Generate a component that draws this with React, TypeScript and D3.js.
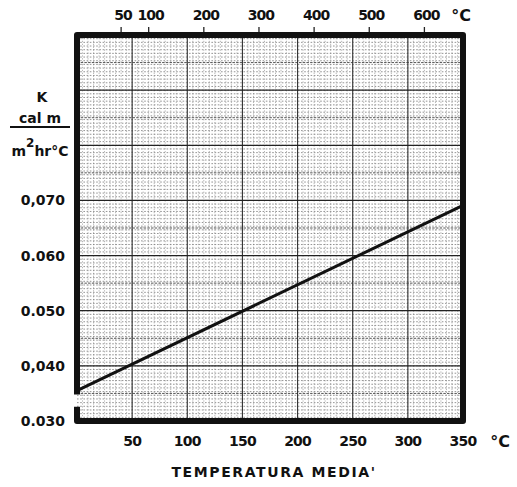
import React from 'react';
import * as d3 from 'd3';

const bottomTicks = [50, 100, 150, 200, 250, 300, 350];
const topTicks = [50, 100, 200, 300, 400, 500, 600];
const topTickLabels = ['50', '100', '200', '300', '400', '500', '600'];
const yTicks = [0.03, 0.04, 0.05, 0.06, 0.07];
const yTickLabels = ['0.030', '0,040', '0.050', '0.060', '0,070'];
const lineTemps = [0, 350];
const lineK = [0.0355, 0.0691];
const coldFaceTemp = 30;

export default function App() {
  const W = 517, H = 487;
  const x = d3.scaleLinear().domain([0, 350]).range([77, 463]);
  const y = d3.scaleLinear().domain([0.03, 0.1]).range([421, 35]);
  const xTop = d3.scaleLinear().domain([-coldFaceTemp, 700 - coldFaceTemp]).range(x.range());
  const [x0, x1] = x.range();
  const [yb, yt] = y.range();

  const fineV = d3.range(5, 350, 5);
  const fineH = d3.range(1, 105).map(i => 0.03 + i * (0.01 / 15)).filter(v => v < 0.0999);
  const medH = d3.range(0.035, 0.1, 0.01);
  const majV = d3.range(50, 350, 50);
  const majH = d3.range(0.04, 0.0999, 0.01);

  const lineData = lineTemps.map((t, i) => [t, lineK[i]] as [number, number]);
  const lineGen = d3.line<[number, number]>().x(d => x(d[0])).y(d => y(d[1]));

  const frame = `M${x0},${y(0.0348)} L${x0},${yt} L${x1},${yt} L${x1},${yb} L${x0},${yb} L${x0},${y(0.0326)}`;
  const font = '"DejaVu Sans", sans-serif';

  return (
    <svg width={W} height={H} style={{ position: 'absolute', left: 0, top: 0, background: '#fff' }}
      fontFamily={font} fontWeight="bold" fill="#111">
      <rect x={0} y={0} width={W} height={H} fill="#fff" />
      <g>
        {fineV.map(v => (
          <line key={'fv' + v} x1={x(v)} x2={x(v)} y1={yt} y2={yb} stroke="#999" strokeWidth={0.7} strokeDasharray="1.3 1.6" />
        ))}
        {fineH.map((v, i) => (
          <line key={'fh' + i} x1={x0} x2={x1} y1={y(v)} y2={y(v)} stroke="#7a7a7a" strokeWidth={0.8} strokeDasharray="1.6 1.6" />
        ))}
        {medH.map((v, i) => (
          <line key={'mh' + i} x1={x0} x2={x1} y1={y(v)} y2={y(v)} stroke="#555" strokeWidth={1} strokeDasharray="2.5 1.2" />
        ))}
        {majV.map(v => (
          <line key={'mv' + v} x1={x(v)} x2={x(v)} y1={yt} y2={yb} stroke="#333" strokeWidth={1.1} />
        ))}
        {majH.map((v, i) => (
          <line key={'mjh' + i} x1={x0} x2={x1} y1={y(v)} y2={y(v)} stroke="#222" strokeWidth={1.3} />
        ))}
      </g>
      <path d={lineGen(lineData) || ''} stroke="#111" strokeWidth={3} fill="none" />
      <path d={frame} stroke="#111" strokeWidth={6} fill="none" strokeLinejoin="round" />
      {topTicks.map(t => (
        <line key={'tt' + t} x1={xTop(t)} x2={xTop(t)} y1={yt - 3} y2={yt - 8} stroke="#222" strokeWidth={1.3} />
      ))}
      {topTicks.map((t, i) => (
        <text key={'tl' + t} x={xTop(t) + 2} y={20} fontSize={14} textAnchor="middle" letterSpacing={-1}>{topTickLabels[i]}</text>
      ))}
      <text x={461} y={21} fontSize={16} textAnchor="middle">°C</text>
      {bottomTicks.map(t => (
        <text key={'bl' + t} x={x(t)} y={446} fontSize={14} textAnchor="middle" letterSpacing={-0.8}>{t}</text>
      ))}
      <text x={500} y={447} fontSize={16} textAnchor="middle">°C</text>
      {yTicks.map((v, i) => (
        <text key={'yl' + i} x={65} y={y(v) + 5} fontSize={14} textAnchor="end">{yTickLabels[i]}</text>
      ))}
      <text x={42} y={102} fontSize={14} textAnchor="middle">K</text>
      <text x={40} y={123} fontSize={14} textAnchor="middle">cal m</text>
      <line x1={10} x2={70} y1={127} y2={127} stroke="#111" strokeWidth={2} />
      <text x={40} y={156} fontSize={14} textAnchor="middle">m<tspan dy={-9} fontSize={12}>2</tspan><tspan dy={9}>hr°C</tspan></text>
      <text x={274} y={477} fontSize={14} textAnchor="middle" letterSpacing={1.6}>TEMPERATURA MEDIA'</text>
    </svg>
  );
}
